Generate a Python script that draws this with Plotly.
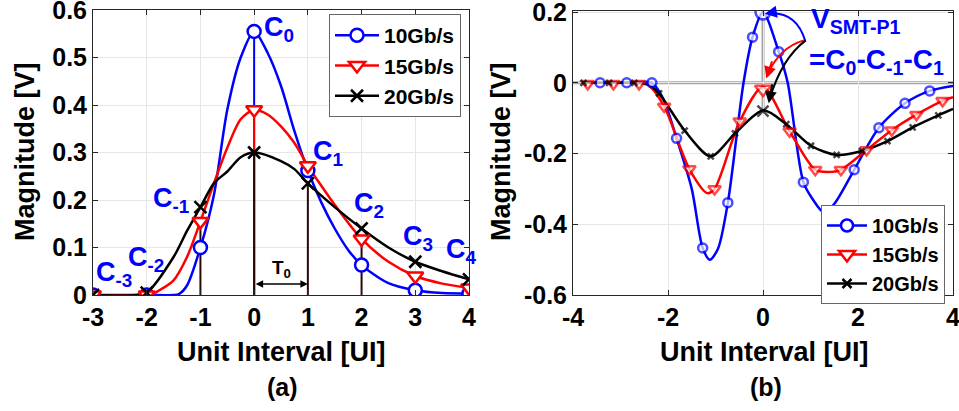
import plotly.graph_objects as go

# ---------------- panel (a): sampled pulse response ----------------
a_ui = [-3, -2, -1, 0, 1, 2, 3, 4]
a_10g = [0, 0, 0.1, 0.555, 0.262, 0.063, 0.01, 0.003]
a_15g = [0, 0, 0.155, 0.39, 0.272, 0.118, 0.04, 0.015]
a_20g = [0, 0.005, 0.185, 0.3, 0.235, 0.14, 0.07, 0.033]

# continuous curves
a_10g_cx = [-3, -2, -1.5, -1.4, -1.25, -1, -0.75, -0.5, -0.25, 0, 0.25, 0.5, 0.75, 1, 1.25, 1.5, 1.75, 2, 2.5, 3, 3.5, 4]
a_10g_cy = [0, 0, 0, 0.002, 0.02, 0.1, 0.21, 0.39, 0.5, 0.555, 0.51, 0.44, 0.345, 0.262, 0.195, 0.14, 0.095, 0.063, 0.025, 0.01, 0.004, 0.003]
a_15g_cx = [-3, -2, -1.9, -1.5, -1.25, -1, -0.75, -0.5, -0.25, 0, 0.25, 0.5, 0.75, 1, 1.25, 1.5, 2, 2.5, 3, 3.5, 4]
a_15g_cy = [0, 0, 0.002, 0.031, 0.08, 0.155, 0.235, 0.31, 0.37, 0.39, 0.38, 0.355, 0.32, 0.272, 0.23, 0.19, 0.118, 0.07, 0.04, 0.024, 0.015]
a_20g_cx = [-3, -2.2, -2, -1.5, -1.25, -1, -0.75, -0.5, -0.25, 0, 0.5, 0.75, 1, 1.5, 2, 2.5, 3, 3.5, 4]
a_20g_cy = [0, 0, 0.005, 0.08, 0.135, 0.185, 0.235, 0.26, 0.29, 0.3, 0.282, 0.265, 0.235, 0.185, 0.14, 0.1, 0.07, 0.05, 0.033]

stem_x = [-1, 0, 1, 2]
stem_top = [0.155, 0.3, 0.235, 0.12]

cursor_text = ["C<sub>0</sub>", "C<sub>1</sub>", "C<sub>-1</sub>", "C<sub>-2</sub>",
               "C<sub>-3</sub>", "C<sub>2</sub>", "C<sub>3</sub>", "C<sub>4</sub>"]
cursor_x = [0.15, 1.06, -1.92, -2.38, -2.98, 1.82, 2.73, 3.53]
cursor_y = [0.56, 0.3, 0.2, 0.075, 0.045, 0.19, 0.119, 0.092]

a_yticks = [0, 0.1, 0.2, 0.3, 0.4, 0.5, 0.6]
a_ytext = ["0", "0.1", "0.2", "0.3", "0.4", "0.5", "0.6"]
a_xtext = ["-3", "-2", "-1", "0", "1", "2", "3", "4"]

# ---------------- panel (b): SMT pulse response ----------------
b_10g_x = [-3.43, -2.87, -2.34, -1.82, -1.27, -0.74, -0.22, 0, 0.33, 0.85, 1.38, 1.92, 2.44, 2.99, 3.51]
b_10g_y = [0, 0, 0, -0.157, -0.467, -0.339, 0.129, 0.2, 0.088, -0.281, -0.37, -0.246, -0.127, -0.058, -0.023]
b_15g_x = [-3.69, -3.15, -2.61, -2.08, -1.55, -1.02, -0.49, 0, 0.56, 1.1, 1.64, 2.18, 2.71, 3.23, 3.78]
b_15g_y = [-0.003, -0.003, -0.003, -0.067, -0.244, -0.3, -0.109, -0.018, -0.137, -0.246, -0.246, -0.19, -0.134, -0.09, -0.051]
b_20g_x = [-3.78, -3.24, -2.71, -2.19, -1.65, -1.1, -0.59, 0, 0.49, 1.01, 1.55, 2.08, 2.62, 3.15, 3.69]
b_20g_y = [0, 0, 0, -0.03, -0.135, -0.208, -0.143, -0.08, -0.117, -0.178, -0.204, -0.193, -0.165, -0.126, -0.092]

b_10g_cx = [-3.8, -3.43, -2.87, -2.34, -2.1, -1.82, -1.5, -1.27, -1.12, -0.95, -0.74, -0.41, -0.22, 0, 0.33, 0.52, 0.85, 1.06, 1.27, 1.48, 1.92, 2.44, 2.99, 3.51, 4.0]
b_10g_cy = [0, 0, 0, 0, -0.045, -0.157, -0.3, -0.467, -0.5, -0.47, -0.339, 0, 0.129, 0.2, 0.088, 0, -0.281, -0.332, -0.365, -0.346, -0.246, -0.127, -0.058, -0.023, -0.009]
b_15g_cx = [-3.78, -3.15, -2.61, -2.4, -2.08, -1.55, -1.17, -1.02, -0.49, 0, 0.56, 1.1, 1.37, 1.64, 2.18, 2.71, 3.23, 3.78, 4.0]
b_15g_cy = [0, 0, 0, -0.008, -0.067, -0.244, -0.312, -0.3, -0.109, -0.012, -0.137, -0.246, -0.252, -0.246, -0.19, -0.134, -0.09, -0.051, -0.041]
b_20g_cx = [-3.78, -3.24, -2.71, -2.4, -2.19, -1.65, -1.1, -0.59, 0, 0.49, 1.01, 1.55, 2.08, 2.62, 3.15, 3.69, 4.0]
b_20g_cy = [0, 0, 0, -0.005, -0.03, -0.135, -0.208, -0.143, -0.078, -0.117, -0.178, -0.204, -0.193, -0.165, -0.126, -0.092, -0.074]

b_xticks = [-4, -2, 0, 2, 4]
b_xtext = ["-4", "-2", "0", "2", "4"]
b_yticks = [-0.6, -0.4, -0.2, 0, 0.2]
b_ytext = ["-0.6", "-0.4", "-0.2", "0", "0.2"]

BLUE = "#0000FF"
RED = "#FF0000"
BLACK = "#000000"
FONT = "Liberation Sans, Arial, sans-serif"


def bold(labels):
    return ["<b>%s</b>" % s for s in labels]


fig = go.Figure()

# stems (panel a)
sx, sy = [], []
for x, t in zip(stem_x, stem_top):
    sx += [x, x, None]
    sy += [0, t, None]
fig.add_trace(go.Scatter(x=[0, 0], y=[0, a_10g[3]], mode="lines", line=dict(color=BLUE, width=2),
                         showlegend=False, hoverinfo="skip"))
fig.add_trace(go.Scatter(x=[0, 0], y=[0, a_15g[3]], mode="lines", line=dict(color=RED, width=2),
                         showlegend=False, hoverinfo="skip"))
fig.add_trace(go.Scatter(x=sx, y=sy, mode="lines", line=dict(color="#2a0808", width=2),
                         showlegend=False, hoverinfo="skip"))

series_a = [
    ("10Gb/s", BLUE, a_10g_cx, a_10g_cy, a_10g, "circle", 13, "white"),
    ("15Gb/s", RED, a_15g_cx, a_15g_cy, a_15g, "triangle-down", 14, "white"),
    ("20Gb/s", BLACK, a_20g_cx, a_20g_cy, a_20g, "x-thin-open", 12, BLACK),
]
for name, col, cx, cy, my, sym, sz, fill in series_a:
    fig.add_trace(go.Scatter(x=cx, y=cy, mode="lines", line=dict(color=col, width=2.5, shape="spline", smoothing=0.8),
                             showlegend=False, xaxis="x", yaxis="y"))
for name, col, cx, cy, my, sym, sz, fill in series_a:
    mk = dict(symbol=sym, size=sz, color=fill, line=dict(width=2.5, color=col))
    fig.add_trace(go.Scatter(x=a_ui, y=my, mode="markers", marker=mk,
                             showlegend=False, xaxis="x", yaxis="y"))
    fig.add_trace(go.Scatter(x=[None], y=[None], mode="lines+markers", name=name,
                             line=dict(color=col, width=2.5), marker=mk,
                             legend="legend", xaxis="x", yaxis="y"))

series_b = [
    ("10Gb/s", BLUE, b_10g_cx, b_10g_cy, b_10g_x, b_10g_y, "circle", 9, 15, "white"),
    ("15Gb/s", RED, b_15g_cx, b_15g_cy, b_15g_x, b_15g_y, "triangle-down", 11, 14, "white"),
    ("20Gb/s", BLACK, b_20g_cx, b_20g_cy, b_20g_x, b_20g_y, "x-thin-open", 6, 11, BLACK),
]
for name, col, cx, cy, mx, my, sym, sz, big, fill in series_b:
    fig.add_trace(go.Scatter(x=cx, y=cy, mode="lines", line=dict(color=col, width=2.5, shape="spline", smoothing=0.8),
                             showlegend=False, xaxis="x2", yaxis="y2"))
for name, col, cx, cy, mx, my, sym, sz, big, fill in series_b:
    sizes = [big if x == 0 else sz for x in mx]
    fig.add_trace(go.Scatter(x=mx, y=my, mode="markers",
                             marker=dict(color=fill, symbol=sym, size=sizes, line=dict(width=2.5, color=col)),
                             showlegend=False, xaxis="x2", yaxis="y2"))
    fig.add_trace(go.Scatter(x=[None], y=[None], mode="lines+markers", name=name,
                             line=dict(color=col, width=2.5),
                             marker=dict(color=fill, symbol=sym, size=sz + 3, line=dict(width=2.5, color=col)),
                             legend="legend2", xaxis="x2", yaxis="y2"))

tickfont = dict(family=FONT, size=25, color="black")
axis_common = dict(showline=True, linecolor="#262626", linewidth=1, mirror="ticks", ticks="inside",
                   ticklen=5, tickcolor="#262626", gridcolor="#e6e6e6", gridwidth=1, zeroline=False,
                   tickfont=tickfont, ticklabeloverflow="allow", automargin=False)

fig.update_layout(
    width=959, height=411,
    margin=dict(l=0, r=0, t=0, b=0, pad=0, autoexpand=False),
    paper_bgcolor="white", plot_bgcolor="white",
    xaxis=dict(domain=[93 / 959, 469 / 959], range=[-3, 4], tickvals=a_ui, ticktext=bold(a_xtext),
               anchor="y", **axis_common),
    yaxis=dict(domain=[(411 - 295) / 411, (411 - 10) / 411], range=[0, 0.6], tickvals=a_yticks,
               ticktext=bold(a_ytext), anchor="x", **axis_common),
    xaxis2=dict(domain=[573 / 959, 953 / 959], range=[-4, 4], tickvals=b_xticks, ticktext=bold(b_xtext),
                anchor="y2", **axis_common),
    yaxis2=dict(domain=[(411 - 295) / 411, (411 - 11) / 411], range=[-0.6, 0.203], tickvals=b_yticks,
                ticktext=bold(b_ytext), anchor="x2", **axis_common),
    legend=dict(x=329 / 959, y=(411 - 14) / 411, xanchor="left", yanchor="top",
                bgcolor="white", bordercolor="#666666", borderwidth=1,
                font=dict(family=FONT, size=21, color="black", weight="bold"),
                tracegroupgap=0, itemwidth=44),
    legend2=dict(x=821 / 959, y=(411 - 205) / 411, xanchor="left", yanchor="top",
                 bgcolor="white", bordercolor="#666666", borderwidth=1,
                 font=dict(family=FONT, size=20, color="black", weight="bold"),
                 tracegroupgap=0, itemwidth=40),
)

# gray reference lines in panel (b)
fig.add_shape(type="line", xref="x2", yref="y2", x0=-4, x1=4, y0=0, y1=0,
              line=dict(color="#a6a6a6", width=3), layer="below")
fig.add_shape(type="line", xref="x2", yref="y2", x0=0, x1=0, y0=-0.08, y1=0.2,
              line=dict(color="#a6a6a6", width=3), layer="below")

# curved arrows in panel (b)
arrows = [
    (BLUE, "M 0.89,0.118 Q 0.7,0.205 0.08,0.196", 0.04, 0.195, 0.25, 0.2),
    (RED, "M 0.86,0.12 Q 0.35,0.1 0.1,0.025", 0.07, 0.012, 0.2, 0.065),
    (BLACK, "M 0.9,0.12 Q 0.4,0.07 0.14,-0.045", 0.12, -0.058, 0.2, 0.0),
]
for col, path, tx, ty, bx, by in arrows:
    fig.add_shape(type="path", xref="x2", yref="y2", path=path, line=dict(color=col, width=2))
    fig.add_annotation(xref="x2", yref="y2", x=tx, y=ty, ax=bx, ay=by, axref="x2", ayref="y2",
                       text="", showarrow=True, arrowhead=2, arrowsize=1.2, arrowwidth=2, arrowcolor=col)

fig.add_annotation(xref="x2", yref="y2", x=0.97, y=0.175, xanchor="left", yanchor="middle",
                   text="V<sub>SMT-P1</sub>", showarrow=False,
                   font=dict(family=FONT, size=28, color=BLUE, weight="bold"))
fig.add_annotation(xref="x2", yref="y2", x=0.93, y=0.06, xanchor="left", yanchor="middle",
                   text="=C<sub>0</sub>-C<sub>-1</sub>-C<sub>1</sub>", showarrow=False,
                   font=dict(family=FONT, size=28, color=BLUE, weight="bold"))

# cursor labels in panel (a)
for t, x, y in zip(cursor_text, cursor_x, cursor_y):
    fig.add_annotation(xref="x", yref="y", x=x, y=y, xanchor="left", yanchor="middle", text=t,
                       showarrow=False, font=dict(family=FONT, size=27, color=BLUE, weight="bold"))

# T0 double arrow
fig.add_annotation(xref="x", yref="y", x=1, y=0.023, ax=0, ay=0.023, axref="x", ayref="y", text="",
                   showarrow=True, arrowhead=2, startarrowhead=2, arrowside="end+start",
                   arrowsize=1, arrowwidth=1.5, arrowcolor="black")
fig.add_annotation(xref="x", yref="y", x=0.5, y=0.055, text="T<sub>0</sub>", showarrow=False,
                   font=dict(family=FONT, size=19, color="black", weight="bold"))

# axis titles and panel tags
title_font = dict(family=FONT, size=27, color="black", weight="bold")
for xc, tag in [(281, "(a)"), (764, "(b)")]:
    fig.add_annotation(xref="paper", yref="paper", x=xc / 959, y=(411 - 352) / 411, text="Unit Interval [UI]",
                       showarrow=False, font=title_font, xanchor="center", yanchor="middle")
    fig.add_annotation(xref="paper", yref="paper", x=xc / 959 + 0.002, y=(411 - 387) / 411, text=tag,
                       showarrow=False, font=dict(family=FONT, size=25, color="black", weight="bold"),
                       xanchor="center", yanchor="middle")
for xc, yc in [(25, 152), (501, 152)]:
    fig.add_annotation(xref="paper", yref="paper", x=xc / 959, y=(411 - yc) / 411, text="Magnitude [V]",
                       showarrow=False, font=title_font, textangle=-90, xanchor="center", yanchor="middle")

# the page body has a default 8px margin; drop it so the figure sits at the window corner
fig.write_html("out.html", config={"displayModeBar": False},
               post_script="document.body.style.margin='0';")
